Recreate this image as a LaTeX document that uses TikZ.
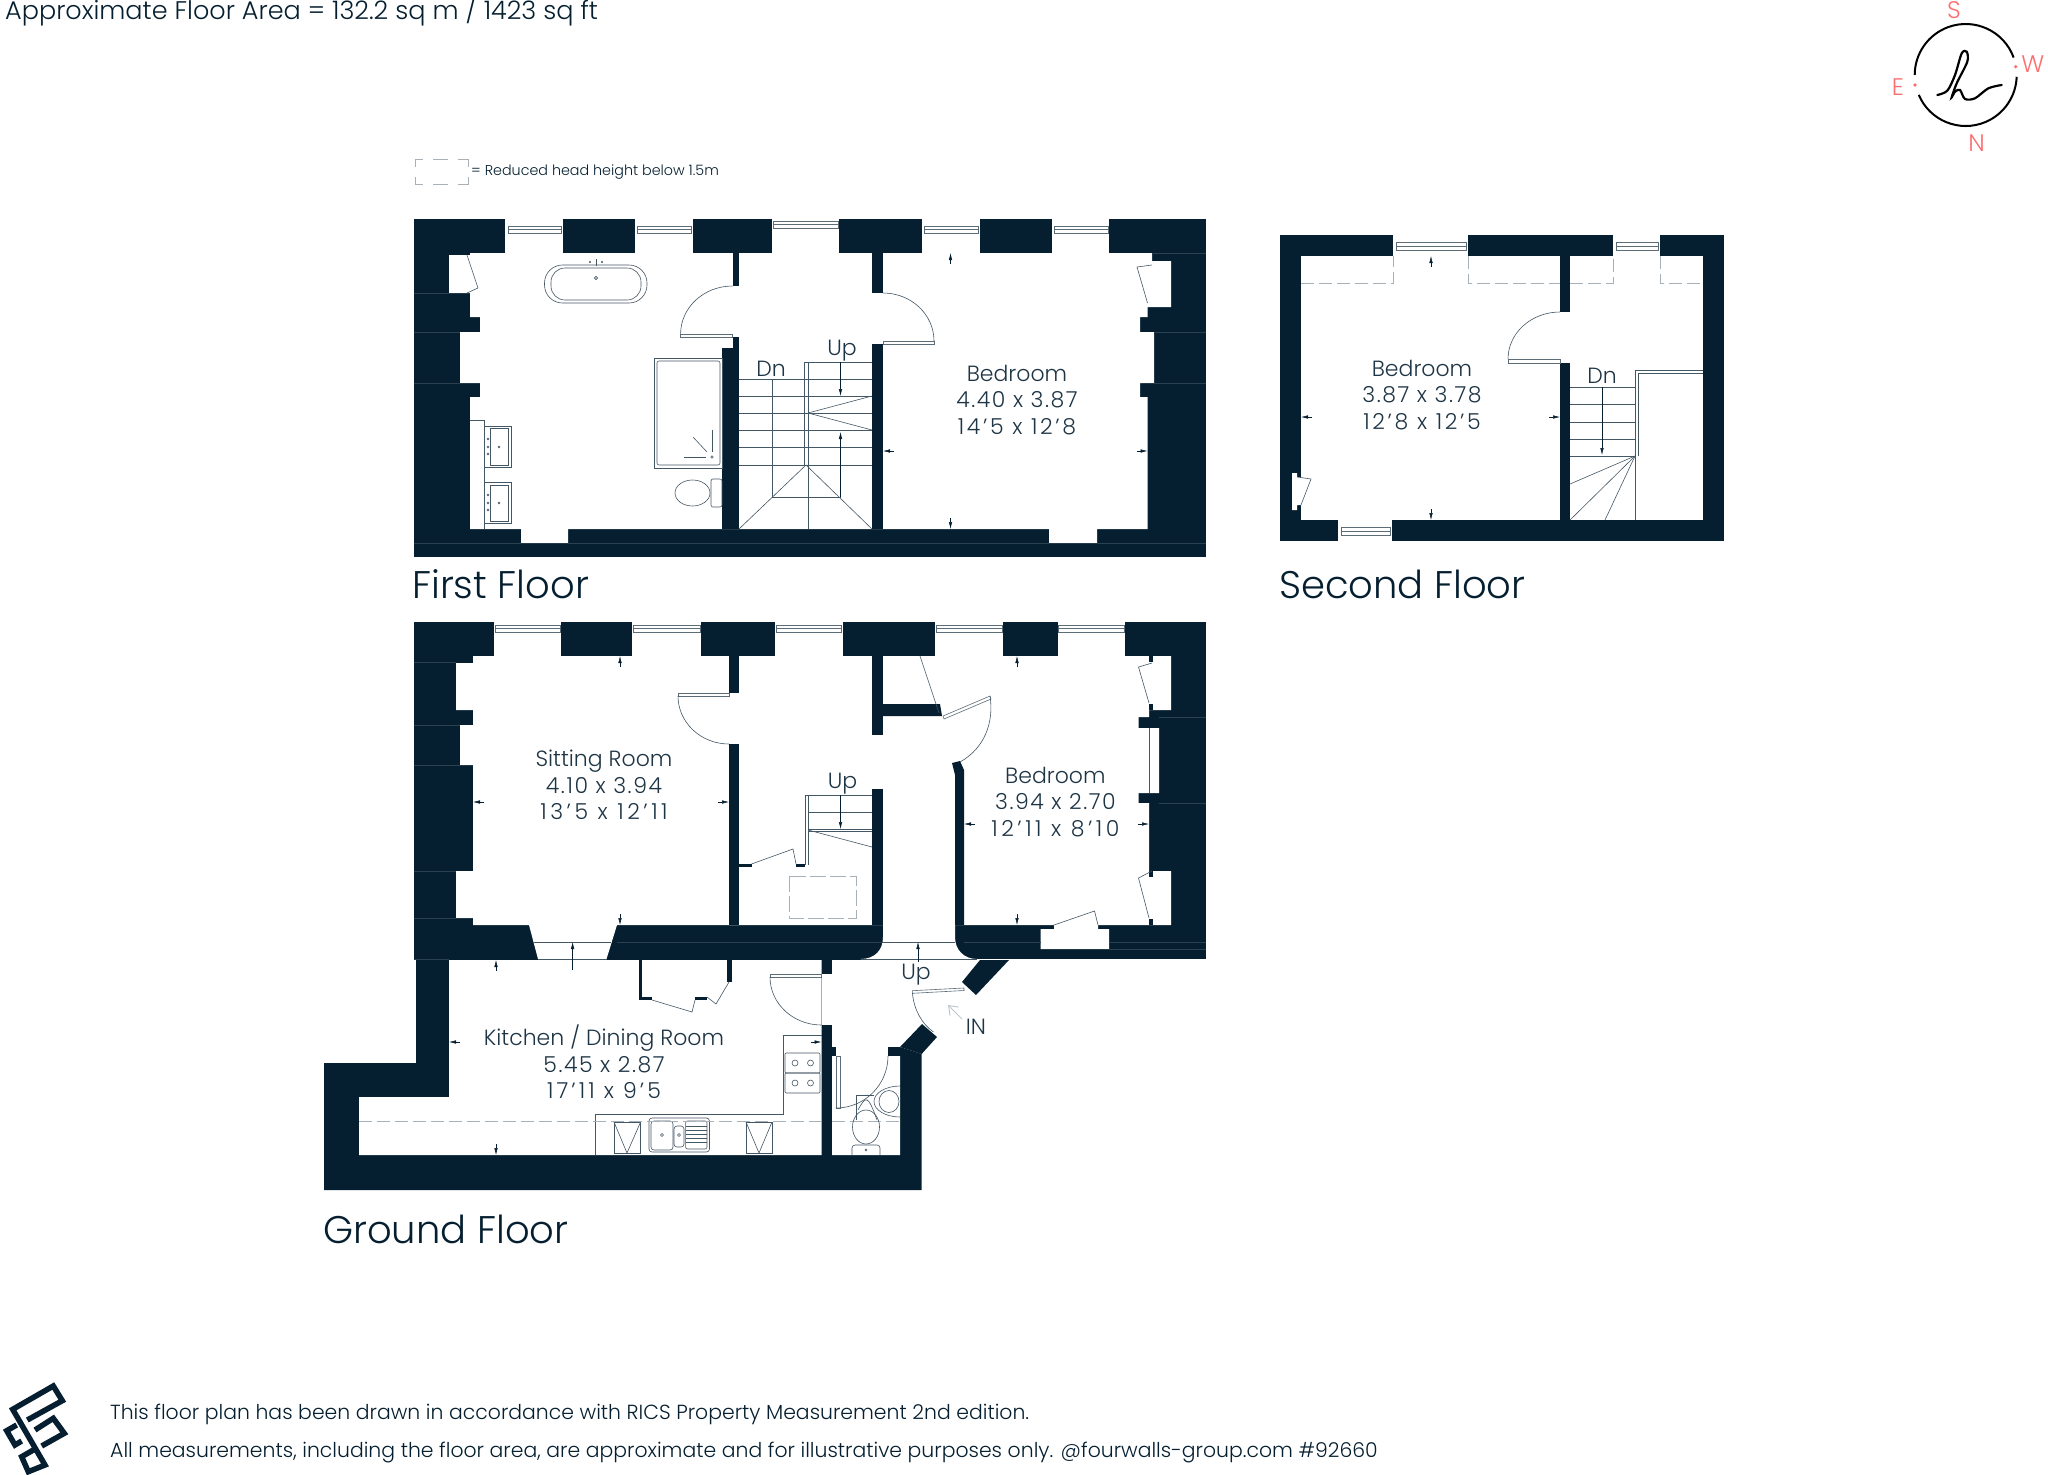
\documentclass[tikz,border=0pt]{standalone}
\usepackage{fontspec}
\usepackage{xcolor}
\setmainfont{Poppins}[UprightFont=* Light]
\usetikzlibrary{arrows.meta}
\definecolor{wallnavy}{HTML}{051F30}
\definecolor{compassred}{HTML}{FB6F6F}
\newcommand\ft{\char39 }
\newcommand\dims[2]{{\addfontfeature{LetterSpace=#1}#2}}
\tikzset{
  wall/.style={fill=wallnavy, draw=none},
  room/.style={fill=white, draw=none},
  thinline/.style={draw=wallnavy!75, line width=0.6pt},
  seam/.style={draw=wallnavy!85!white, line width=0.4pt},
  glass/.style={draw=wallnavy!65, line width=0.6pt, fill=white},
  headline/.style={draw=wallnavy!35, line width=0.6pt, dash pattern=on 13pt off 5pt},
  legendline/.style={draw=wallnavy!35, line width=0.7pt},
  tick/.style={draw=wallnavy, line width=0.5pt, -{Latex[length=7pt,width=3.5pt]}},
  roomlabel/.style={text=wallnavy!90, align=center, inner sep=0pt, font=\fontsize{22}{26.5}\selectfont},
  floorlabel/.style={text=wallnavy, anchor=west, inner sep=0pt, font=\fontsize{38.5}{42}\selectfont},
  notelabel/.style={text=wallnavy, anchor=west, inner sep=0pt, font=\fontsize{20.4}{24}\selectfont},
  compasslabel/.style={text=compassred, inner sep=0pt, font=\fontsize{24}{26}\selectfont},
}
\begin{document}
\begin{tikzpicture}[x=1pt, y=-1pt]
  \useasboundingbox (0,0) rectangle (2048,1475);
  % first floor
  \fill[wall] (414,219) rectangle (1206,557);
  \fill[room] (470,253) -- (470,255) -- (449,255) -- (449,293) -- (470,293) -- (470,317) -- (480,317) -- (480,332) -- (460,332) -- (460,383) -- (480,383) -- (480,397) -- (470,397) -- (470,529) -- (521,529) -- (521,543) -- (568,543) -- (568,529) -- (1049,529) -- (1049,543) -- (1097,543) -- (1097,529) -- (1147.5,529) -- (1147.5,397) -- (1140,397) -- (1140,383) -- (1154,383) -- (1154,332) -- (1140,332) -- (1140,317) -- (1147.5,317) -- (1147.5,307) -- (1171,307) -- (1171,261) -- (1152,261) -- (1152,253) -- cycle;
  \draw[seam] (414,543) -- (521,543) (568,543) -- (1049,543) (1097,543) -- (1206,543);
  \draw[seam] (1152,253) -- (1206,253);
  \draw[seam] (414,293) -- (449,293) (414,332) -- (460,332) (414,383) -- (460,383);
  \draw[seam] (1154,332) -- (1206,332) (1154,383) -- (1206,383);
  \fill[room] (505,219) rectangle (563,253);
  \fill[room] (634.5,219) rectangle (693,253);
  \fill[room] (772,219) rectangle (839,253);
  \fill[room] (922,219) rectangle (980,253);
  \fill[room] (1052,219) rectangle (1109,253);
  \draw[glass] (508,226) rectangle (561,233) (508,229.5) -- (561,229.5);
  \draw[glass] (637,226) rectangle (691,233) (637,229.5) -- (691,229.5);
  \draw[glass] (773,221) rectangle (838,228) (773,224.5) -- (838,224.5);
  \draw[glass] (924,226) rectangle (978,233) (924,229.5) -- (978,229.5);
  \draw[glass] (1054,226) rectangle (1108,233) (1054,229.5) -- (1108,229.5);
  \fill[wall] (732.5,253) rectangle (739,286);
  \fill[wall] (732.5,337) rectangle (739,348);
  \fill[wall] (722,348) rectangle (739,529);
  \fill[wall] (872,253) rectangle (883,293);
  \fill[wall] (872,344) rectangle (883,529);
  % first floor doors
  \draw[glass] (680.6,334) rectangle (732.5,337);
  \draw[thinline] (732.5,286) arc[start angle=90, end angle=180, x radius=51.9pt, y radius=48pt];
  \draw[glass] (883,341) rectangle (934,344);
  \draw[thinline] (883,293) arc[start angle=90, end angle=0, x radius=51pt, y radius=48pt];
  % first floor stairs
  \draw[thinline] (804.5,362) -- (872,362);
  \draw[thinline] (739,379.3) -- (872,379.3);
  \draw[thinline] (739,396) -- (872,396);
  \draw[thinline] (739,413) -- (872,413);
  \draw[thinline] (739,430) -- (872,430);
  \draw[thinline] (739,447) -- (872,447);
  \draw[thinline] (739,465) -- (872,465);
  \draw[thinline] (804.5,362) -- (804.5,465);
  \draw[thinline] (808,362) -- (808,529);
  \draw[thinline] (772,379.3) -- (772,497);
  \draw[thinline] (808,413) -- (872,396);
  \draw[thinline] (808,413) -- (872,430);
  \draw[thinline] (806,465) -- (739,529);
  \draw[thinline] (806,465) -- (872,529);
  \draw[thinline] (772,497) -- (840.5,497);
  \draw[tick] (840.5,362) -- (840.5,396);
  \draw[tick] (840.5,497) -- (840.5,432);
  % first floor bathroom
  \draw[thinline] (654,358) rectangle (722,468);
  \draw[thinline, rounded corners=2pt] (657,361) rectangle (720,465);
  \draw[thinline] (693,437) -- (707,452);
  \draw[thinline] (684,457) -- (706,457);
  \draw[thinline] (712,430) -- (712,452);
  \draw[thinline] (712,457) circle (1.2pt);
  \draw[thinline, rounded corners=18pt] (544.5,265) rectangle (647,303);
  \draw[thinline, rounded corners=14pt] (551,268) rectangle (641,300);
  \draw[thinline] (596,278) circle (1.6pt);
  \draw[thinline] (596,259) -- (596,266);
  \draw[thinline] (590,262) circle (0.7pt);
  \draw[thinline] (602,262) circle (0.7pt);
  \draw[thinline] (692.5,493) ellipse (17.5pt and 13pt);
  \draw[thinline, rounded corners=2pt] (711,479) rectangle (722,507);
  \draw[thinline] (470,420) -- (484,420) -- (484,529);
  \draw[thinline] (484,426) rectangle (511,467);
  \draw[thinline] (490,428) rectangle (508.5,465);
  \draw[thinline] (484,482) rectangle (511,523);
  \draw[thinline] (490,485) rectangle (508.5,521);
  \draw[thinline] (488,439) circle (1pt) (488,447) circle (1pt) (488,454) circle (1pt) (499,447) circle (1pt);
  \draw[thinline] (488,495) circle (1pt) (488,503) circle (1pt) (488,510) circle (1pt) (499,503) circle (1pt);
  \draw[thinline] (467,255) -- (478,288) -- (467,293);
  \draw[thinline] (1152,265) -- (1137,267) -- (1147.5,303);
  % first floor ticks
  \draw[tick] (950.5,264) -- (950.5,253);
  \draw[tick] (950.5,518) -- (950.5,529);
  \draw[tick] (894,451) -- (883,451);
  \draw[tick] (1136.5,451) -- (1147.5,451);
  \node[roomlabel] (bedroomfirst) at (1017,400) {Bedroom\\\dims{7}{4.40 x 3.87}\\\dims{12}{14\ft5 x 12\ft8}};
  \node[roomlabel] (upfirst) at (842,351) {Up};
  \node[roomlabel] (dnfirst) at (771,369) {Dn};
  \node[floorlabel] (firstfloor) at (412,584) {First Floor};

  % second floor
  \fill[wall] (1280.3,235) rectangle (1724,541);
  \fill[room] (1301,256) rectangle (1703,520);
  \fill[room] (1393,235) rectangle (1468,256);
  \fill[room] (1613,235) rectangle (1660,256);
  \fill[room] (1338,520) rectangle (1392,541);
  \draw[glass] (1396,242) rectangle (1466,250) (1396,246) -- (1466,246);
  \draw[glass] (1616,242) rectangle (1658,250) (1616,246) -- (1658,246);
  \draw[glass] (1341,527) rectangle (1390,535) (1341,531) -- (1390,531);
  \fill[wall] (1560,256) rectangle (1570,312);
  \fill[wall] (1560,363) rectangle (1570,520);
  \fill[room] (1292,473) -- (1297,473) -- (1297,477) -- (1301,477) -- (1301,505) -- (1297,505) -- (1297,510) -- (1292,510) -- cycle;
  \draw[thinline] (1297,477) -- (1311,479) -- (1301,505);
  \draw[glass] (1508,359) rectangle (1560,363);
  \draw[thinline] (1560,312) arc[start angle=90, end angle=180, x radius=52pt, y radius=47pt];
  \draw[headline] (1301,283) -- (1393,283) -- (1393,256);
  \draw[headline] (1468,256) -- (1468,283) -- (1560,283);
  \draw[headline] (1570,283) -- (1613,283) -- (1613,256);
  \draw[headline] (1660,256) -- (1660,283) -- (1703,283);
  % second floor stairs
  \draw[thinline] (1570,387) -- (1635,387);
  \draw[thinline] (1570,404) -- (1635,404);
  \draw[thinline] (1570,422) -- (1635,422);
  \draw[thinline] (1570,439) -- (1635,439);
  \draw[thinline] (1570,456) -- (1635,456);
  \draw[thinline] (1703,370) -- (1635,370) -- (1635,520);
  \draw[thinline] (1703,373) -- (1638,373) -- (1638,456);
  \draw[thinline] (1635,456) -- (1570,484);
  \draw[thinline] (1635,456) -- (1570,520);
  \draw[thinline] (1635,456) -- (1605,520);
  \draw[tick] (1602,387) -- (1602,455);
  % second floor ticks
  \draw[tick] (1431,267) -- (1431,256);
  \draw[tick] (1431,509) -- (1431,520);
  \draw[tick] (1312,417) -- (1301,417);
  \draw[tick] (1549,417) -- (1560,417);
  \node[roomlabel] (bedroomsecond) at (1422,395) {Bedroom\\\dims{7}{3.87 x 3.78}\\\dims{12}{12\ft8 x 12\ft5}};
  \node[roomlabel] (dnsecond) at (1602,376) {Dn};
  \node[floorlabel] (secondfloor) at (1279,584) {Second Floor};

  % ground floor
  \fill[wall] (414,622) rectangle (1206,959);
  \fill[wall] (416,959) -- (416,1063) -- (324,1063) -- (324,1190) -- (921.6,1190) -- (921.6,1054) -- (900,1047) -- (900,959) -- cycle;
  \fill[room] (473,656) -- (473,663) -- (456,663) -- (456,710) -- (473,710) -- (473,725) -- (460,725) -- (460,765) -- (473,765) -- (473,871) -- (456,871) -- (456,918) -- (473,918) -- (473,925) -- (529,925) -- (538,959) -- (606.5,959) -- (617,925) -- (739,925) -- (739,656) -- cycle;
  \fill[room] (729,656) -- (1171,656) -- (1171,710) -- (1149,710) -- (1149,717) -- (1138.5,717) -- (1138.5,728) -- (1159,728) -- (1159,793) -- (1138.5,793) -- (1138.5,803) -- (1149,803) -- (1149,871) -- (1171,871) -- (1171,925) -- (1098,925) -- (1098,929) -- (1109,929) -- (1109,949) -- (1040.5,949) -- (1040.5,929) -- (1054,929) -- (1054,925) -- (964,925) -- (955,925) -- (955,937) .. controls (955,950) and (964,959) .. (977,959) -- (860.5,959) .. controls (875,959) and (883,950) .. (883,937) -- (883,925) -- (729,925) -- cycle;
  \fill[room] (449,960) -- (449,1097) -- (359,1097) -- (359,1155) -- (821.5,1155) -- (821.5,960) -- cycle;
  \fill[room] (821.5,974) rectangle (832,1025);
  \fill[room] (832,960) -- (980,960) -- (962,982) -- (937,1037) -- (922,1024) -- (900,1047) -- (888,1047) -- (888,1056) -- (900,1056) -- (900,1155) -- (832,1155) -- (832,1056) -- (836,1056) -- (836,1047) -- (832,1047) -- cycle;
  \fill[room] (494,622) rectangle (561,656);
  \fill[room] (632,622) rectangle (701,656);
  \fill[room] (775,622) rectangle (842.5,656);
  \fill[room] (935,622) rectangle (1003,656);
  \fill[room] (1057.5,622) rectangle (1125,656);
  \draw[glass] (495,625) rectangle (560,632) (495,628.5) -- (560,628.5);
  \draw[glass] (633,625) rectangle (700,632) (633,628.5) -- (700,628.5);
  \draw[glass] (776,625) rectangle (841.5,632) (776,628.5) -- (841.5,628.5);
  \draw[glass] (936,625) rectangle (1002,632) (936,628.5) -- (1002,628.5);
  \draw[glass] (1058.5,625) rectangle (1124,632) (1058.5,628.5) -- (1124,628.5);
  \draw[seam] (414,662) -- (456,662) (414,725) -- (460,725) (414,765) -- (460,765) (414,871) -- (456,871) (414,918) -- (456,918);
  \draw[seam] (1159,717) -- (1206,717) (1159,803) -- (1206,803);
  \draw[seam] (964,942) -- (1040.5,942) (1109,942) -- (1206,942) (617,942) -- (883,942);
  \draw[seam] (414,959) -- (449,959) (1109,949) -- (1206,949);
  % ground floor walls
  \fill[wall] (729,656) rectangle (739,693);
  \fill[wall] (729,744) rectangle (739,925);
  \fill[wall] (872,656) rectangle (883,735);
  \fill[wall] (883,704) -- (940,704) -- (942,716) -- (883,716) -- cycle;
  \fill[wall] (872,789) rectangle (883,925);
  \fill[wall] (952,763) -- (960,761) -- (964,770) -- (964,925) -- (955,925) -- (955,775) -- cycle;
  \fill[wall] (1149,656) rectangle (1153,662);
  \fill[wall] (1149,704) rectangle (1153,710);
  \fill[wall] (1149,871) rectangle (1153,877);
  \fill[wall] (1149,919) rectangle (1153,925);
  \fill[wall] (739,864) rectangle (751.5,867);
  \fill[wall] (796,864) rectangle (805,867);
  \fill[wall] (821.5,960) rectangle (832,974);
  \fill[wall] (821.5,1025) rectangle (832,1047);
  \fill[wall] (821.5,1047) rectangle (836,1056);
  \fill[wall] (821.5,1056) rectangle (832,1155);
  \fill[wall] (639,960) rectangle (642,1000);
  \fill[wall] (639,997) rectangle (652,1000);
  \fill[wall] (695,997) rectangle (707,1000);
  \fill[wall] (726.5,960) rectangle (731.5,982);
  \fill[wall] (980,960) -- (1009,960) -- (976,995) -- (962,982) -- cycle;
  \fill[wall] (922,1024) -- (937,1037) -- (921.6,1054) -- (900,1047) -- cycle;
  \fill[wall] (888,1047) rectangle (900,1056);
  % ground floor doors
  \draw[glass] (678,693) rectangle (729,696);
  \draw[thinline] (678,696) arc[start angle=180, end angle=270, x radius=51pt, y radius=48pt];
  \draw[thinline] (920,656) -- (939,713);
  \draw[glass] (943,716) -- (990,696) -- (991,699) -- (944,719) -- cycle;
  \draw[thinline] (990,696) .. controls (994,722) and (985,748) .. (960,762);
  \draw[thinline] (751.5,864) -- (793,849) -- (796,864);
  \draw[thinline] (1054,925) -- (1094.5,911) -- (1098,925);
  \draw[thinline] (1152,663) -- (1138.5,667) -- (1149,703);
  \draw[thinline] (1152,871) -- (1138.5,878) -- (1149,918);
  \draw[thinline] (1149,728) -- (1149,793);
  \draw[glass] (770,974) rectangle (821.5,977);
  \draw[thinline] (770,977) arc[start angle=180, end angle=270, x radius=51.5pt, y radius=48pt];
  \draw[thinline] (652,1000) -- (692,1012) -- (695,1000);
  \draw[thinline] (707,997) -- (716,1004) -- (729,982);
  \draw[glass] (836,1056) rectangle (840,1108);
  \draw[thinline] (836,1108) arc[start angle=270, end angle=360, x radius=52pt, y radius=52pt];
  \draw[glass] (912.4,990.7) -- (964,988) -- (964,990.5) -- (912.4,993.3) -- cycle;
  \draw[thinline] (912.4,993) .. controls (914,1010) and (922,1024) .. (933.5,1032);
  % ground floor stairs and lines
  \draw[thinline] (805,795) -- (872,795);
  \draw[thinline] (808,812) -- (872,812);
  \draw[thinline] (808,829) -- (872,829);
  \draw[thinline] (808,831) -- (872,831);
  \draw[thinline] (805,795) -- (805,865);
  \draw[thinline] (808,795) -- (808,865);
  \draw[thinline] (808,830) -- (872,847);
  \draw[tick] (840.5,795) -- (840.5,829);
  \draw[draw=wallnavy!35, line width=0.8pt, dash pattern=on 16pt off 4pt] (789.6,876) rectangle (856,918);
  \draw[thinline] (534,942) -- (611,942);
  \draw[thinline] (538,959) -- (606.5,959);
  \draw[thinline] (883,942) -- (955,942);
  \draw[thinline] (860.5,959) -- (977,959);
  \draw[tick] (572.6,970) -- (572.6,942);
  \draw[tick] (918,962) -- (918,942);
  % kitchen units
  \draw[thinline] (595.6,1155) -- (595.6,1114) -- (783,1114) -- (783,1035) -- (821.5,1035);
  \draw[thinline, rounded corners=1pt] (785,1053) rectangle (820,1073);
  \draw[thinline, rounded corners=1pt] (785,1073) rectangle (820,1093);
  \draw[thinline] (795,1063) circle (3pt) (810.5,1063) circle (3pt) (795,1083) circle (3pt) (810.5,1083) circle (3pt);
  \draw[thinline, rounded corners=3pt] (649,1118) rectangle (709.5,1152);
  \draw[thinline, rounded corners=3pt] (651,1121) rectangle (673,1150);
  \draw[thinline, rounded corners=3pt] (674,1126) rectangle (684,1147);
  \draw[thinline, rounded corners=2pt] (685.6,1121) rectangle (707,1149);
  \draw[thinline] (662,1135) circle (1.5pt) (679,1135) circle (1.5pt);
  \draw[thinline] (686,1126) -- (707,1126) (686,1130) -- (707,1130) (686,1134) -- (707,1134) (686,1138) -- (707,1138) (686,1142) -- (707,1142);
  \draw[thinline] (614,1122) rectangle (640.6,1153);
  \draw[thinline] (614,1122) -- (627,1153) -- (640.6,1122);
  \draw[thinline] (746,1122) rectangle (772,1153);
  \draw[thinline] (746,1122) -- (759,1153) -- (772,1122);
  \draw[headline] (359,1121) -- (821.5,1121);
  \draw[headline] (832,1121) -- (900,1121);
  % wc
  \draw[thinline] (900,1086) arc[start angle=90, end angle=270, x radius=26pt, y radius=15.5pt];
  \draw[thinline] (889,1101.5) ellipse (10pt and 11pt);
  \draw[thinline] (856,1095) -- (874,1095);
  \draw[thinline] (856,1095) -- (856,1120);
  \draw[thinline] (858,1110) .. controls (866,1095) and (868,1095) .. (877,1120);
  \draw[thinline] (866,1127) ellipse (13.5pt and 17pt);
  \draw[thinline, rounded corners=3pt] (852,1155) -- (852,1145) -- (880,1145) -- (880,1155);
  \draw[thinline] (866,1150) circle (1pt);
  % entrance arrow
  \draw[draw=wallnavy!25, line width=1pt, -{Straight Barb[length=8pt,width=12pt]}] (962,1019) -- (948,1005);
  % ground floor ticks
  \draw[tick] (620,667) -- (620,656);
  \draw[tick] (620,914) -- (620,925);
  \draw[tick] (484,802) -- (473,802);
  \draw[tick] (718,802) -- (729,802);
  \draw[tick] (1017,667) -- (1017,656);
  \draw[tick] (1017,914) -- (1017,925);
  \draw[tick] (975,824) -- (964,824);
  \draw[tick] (1138,824) -- (1149,824);
  \draw[tick] (496,971) -- (496,960);
  \draw[tick] (496,1144) -- (496,1155);
  \draw[tick] (460,1042) -- (449,1042);
  \draw[tick] (810.5,1042) -- (821.5,1042);
  \node[roomlabel] (sittingroom) at (604,785) {Sitting Room\\\dims{7}{4.10 x 3.94}\\\dims{16}{13\ft5 x 12\ft11}};
  \node[roomlabel] (bedroomground) at (1055.4,802) {Bedroom\\\dims{7}{3.94 x 2.70}\\\dims{16}{12\ft11 x 8\ft10}};
  \node[roomlabel] (kitchen) at (604,1062) {Kitchen / Dining Room\\\dims{7}{5.45 x 2.87}\\\dims{14}{17\ft11 x 9\ft5}};
  \node[roomlabel] (upground) at (842.5,784) {Up};
  \node[roomlabel] (uphall) at (916,975) {Up};
  \node[roomlabel] (entrance) at (976,1027) {IN};
  \node[floorlabel] (groundfloor) at (323,1229) {Ground Floor};

  % legend and notes
  \draw[legendline] (423,159) -- (415,159) -- (415,167);
  \draw[legendline] (433,159) -- (448,159);
  \draw[legendline] (458,159) -- (468,159) -- (468,167);
  \draw[legendline] (415,177) -- (415,184) -- (423,184);
  \draw[legendline] (433,184) -- (448,184);
  \draw[legendline] (458,184) -- (468,184) -- (468,177);
  \node[notelabel, font=\fontsize{14.3}{16}\selectfont] (legend) at (471,172) {= Reduced head height below 1.5m};
  \node[notelabel, font=\fontsize{25.5}{28}\selectfont] (floorarea) at (5,11) {Approximate Floor Area = 132.2 sq m / 1423 sq ft};
  \node[notelabel] (noterics) at (110,1414.5) {This floor plan has been drawn in accordance with RICS Property Measurement 2nd edition.};
  \node[notelabel] (notemeasure) at (110,1452.5) {All measurements, including the floor area, are approximate and for illustrative purposes only. @fourwalls-group.com \#92660};

  % compass
  \draw[black, line width=2pt] (1965.7,75) ++(20:51pt) arc[start angle=20, end angle=180, radius=51pt];
  \draw[black, line width=2pt] (1965.7,75) ++(203:51pt) arc[start angle=203, end angle=358, radius=51pt];
  \draw[black, line width=2.2pt, line cap=round] plot[smooth] coordinates {(1937.3,95) (1947.3,90.7) (1955,75) (1961.7,53.3) (1966.7,51.7) (1967.3,61.7) (1956.7,83.3) (1951.7,97.3) (1955,91.7) (1960,90) (1965,99) (1975,98.3) (1988.3,88.3) (2001.7,85)};
  \fill[compassred] (2015.7,66.7) circle (1.8pt);
  \fill[compassred] (1915,85) circle (1.8pt);
  \node[compasslabel] (south) at (1954,10) {S};
  \node[compasslabel] (west) at (2032.7,64) {W};
  \node[compasslabel] (east) at (1898,87) {E};
  \node[compasslabel] (north) at (1976.7,142.7) {N};

  % logo
  \draw[wallnavy, line width=5.5pt, line join=miter] (27.3,1420) -- (62.3,1400.7) -- (53.3,1386) -- (12.7,1409.3) -- (45,1465) -- (28.3,1471.7) -- (21.7,1456.7) -- (33.3,1450);
  \draw[wallnavy, line width=5.5pt] (35,1430) -- (53.3,1418.3) -- (64.3,1433.3) -- (41.7,1446);
  \draw[wallnavy, line width=5.5pt] (16.7,1425) -- (6.7,1430.7) -- (15,1445) -- (21.7,1441);
\end{tikzpicture}
\end{document}
